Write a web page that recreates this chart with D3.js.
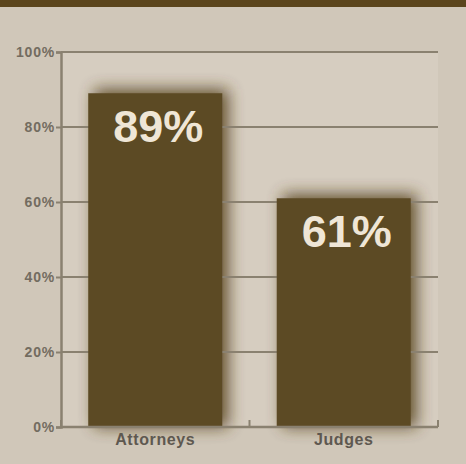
<!DOCTYPE html>
<html>
<head>
<meta charset="utf-8">
<script src="https://cdn.jsdelivr.net/npm/d3@7"></script>
<style>
  html, body { margin: 0; padding: 0; background: #d0c7b9; }
  svg { display: block; }
</style>
</head>
<body>
<svg id="chart" width="466" height="464"></svg>
<script>
// Share of respondents, by group
const categories = ["Attorneys", "Judges"];
const values = [89, 61];
const tickValues = [0, 20, 40, 60, 80, 100];
const tickLabels = ["0%", "20%", "40%", "60%", "80%", "100%"];

const W = 466, H = 464;
const margin = { top: 52, right: 28, bottom: 37, left: 61 };
const svg = d3.select("#chart");

// Top banner strip
svg.append("rect").attr("x", 0).attr("y", 0).attr("width", W).attr("height", 7)
  .attr("fill", "#5b451c");

const x = d3.scaleBand()
  .domain(categories)
  .range([margin.left, W - margin.right])
  .paddingInner(0.289)
  .paddingOuter(0.1445);

const y = d3.scaleLinear()
  .domain([0, 100])
  .range([H - margin.bottom, margin.top]);

const defs = svg.append("defs");
const blur = defs.append("filter").attr("id", "softShadow")
  .attr("x", "-40%").attr("y", "-40%").attr("width", "180%").attr("height", "180%");
blur.append("feGaussianBlur").attr("stdDeviation", 8);

// Slightly lighter plot panel
svg.append("rect")
  .attr("x", margin.left).attr("y", margin.top)
  .attr("width", W - margin.right - margin.left)
  .attr("height", H - margin.bottom - margin.top)
  .attr("fill", "#d6cdc0");

// Soft shadows behind the bars (under the gridlines)
svg.append("g")
  .selectAll("rect")
  .data(categories)
  .join("rect")
  .attr("x", d => x(d) + 6)
  .attr("y", (d, i) => y(values[i]) - 4)
  .attr("width", x.bandwidth())
  .attr("height", (d, i) => y(0) - y(values[i]) + 4)
  .attr("fill", "#4f3a14")
  .attr("opacity", 0.85)
  .attr("filter", "url(#softShadow)");

// Horizontal gridlines
svg.append("g")
  .selectAll("line")
  .data(tickValues.slice(1))
  .join("line")
  .attr("x1", margin.left).attr("x2", W - margin.right)
  .attr("y1", d => y(d)).attr("y2", d => y(d))
  .attr("stroke", "#8a8170").attr("stroke-width", 2);

// Y axis
const yAxis = d3.axisLeft(y)
  .tickValues(tickValues)
  .tickFormat((d, i) => tickLabels[i])
  .tickSize(5)
  .tickPadding(1);

const gy = svg.append("g")
  .attr("transform", `translate(${margin.left},0)`)
  .call(yAxis);
gy.select(".domain").attr("stroke", "#8a8170").attr("stroke-width", 2.5);
gy.selectAll(".tick line").attr("stroke", "#8a8170").attr("stroke-width", 2);
gy.selectAll(".tick text")
  .attr("fill", "#736c60")
  .style("font-family", "'Liberation Sans', Arial, sans-serif")
  .style("font-size", "14px")
  .style("letter-spacing", "0.8px")
  .style("font-weight", "bold");

// Bars
svg.append("g")
  .selectAll("rect")
  .data(categories)
  .join("rect")
  .attr("x", d => x(d))
  .attr("y", (d, i) => y(values[i]))
  .attr("width", x.bandwidth())
  .attr("height", (d, i) => y(0) - y(values[i]))
  .attr("fill", "#5c4a24");

// X axis baseline with boundary ticks
const gx = svg.append("g")
  .attr("transform", `translate(0,${y(0)})`);
gx.append("line")
  .attr("x1", margin.left).attr("x2", W - margin.right)
  .attr("stroke", "#8a8170").attr("stroke-width", 2.5);
const bounds = [margin.left, (x(categories[0]) + x.bandwidth() + x(categories[1])) / 2, W - margin.right];
gx.selectAll("line.bound")
  .data(bounds)
  .join("line")
  .attr("class", "bound")
  .attr("x1", d => d).attr("x2", d => d)
  .attr("y1", 0).attr("y2", -7)
  .attr("stroke", "#8a8170").attr("stroke-width", 2);
gx.selectAll("text")
  .data(categories)
  .join("text")
  .attr("x", d => x(d) + x.bandwidth() / 2)
  .attr("y", 18)
  .attr("text-anchor", "middle")
  .attr("fill", "#5e5850")
  .style("font-family", "'Liberation Sans', Arial, sans-serif")
  .style("font-size", "16px")
  .style("letter-spacing", "0.6px")
  .style("font-weight", "bold")
  .text(d => d);

// Value labels inside bars
svg.append("g")
  .selectAll("text")
  .data(categories)
  .join("text")
  .attr("x", d => x(d) + x.bandwidth() / 2 + 3)
  .attr("y", (d, i) => y(values[i]) + 49)
  .attr("text-anchor", "middle")
  .attr("fill", "#efe6d6")
  .style("font-family", "'Liberation Sans', Arial, sans-serif")
  .style("font-size", "45px")
  .style("font-weight", "bold")
  .text((d, i) => values[i] + "%");
</script>
</body>
</html>
